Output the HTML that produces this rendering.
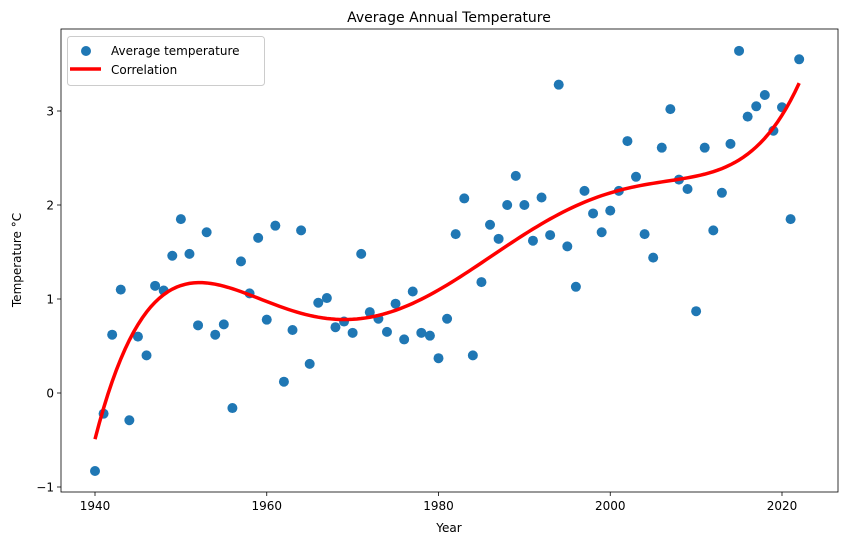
<!DOCTYPE html>
<html><head><meta charset="utf-8"><style>
body{margin:0;background:#fff;}
svg text{font-family:"DejaVu Sans","Liberation Sans",sans-serif;fill:#000;}
</style></head><body>
<svg id="chart" width="844" height="545" xmlns="http://www.w3.org/2000/svg">
<rect x="0" y="0" width="844" height="545" fill="#fff"/>
<text x="449" y="22" font-size="14" text-anchor="middle">Average Annual Temperature</text>
<text x="449" y="532" font-size="12" text-anchor="middle">Year</text>
<text transform="translate(21,260) rotate(-90)" font-size="12" text-anchor="middle">Temperature °C</text>
<g id="ticks"></g>
<g id="marks"></g>
<rect x="61" y="29" width="777" height="463" fill="none" stroke="#000" stroke-width="0.8"/>
<g>
<rect x="67.5" y="36.5" width="197" height="49" rx="3" fill="#fff" fill-opacity="0.8" stroke="#ccc"/>
<circle cx="86" cy="51" r="5" fill="#1f77b4"/>
<text x="111" y="55" font-size="12">Average temperature</text>
<line x1="70" y1="69" x2="101" y2="69" stroke="red" stroke-width="3.5"/>
<text x="111" y="74" font-size="12">Correlation</text>
</g>
</svg>
<script>
const years = [];
for (let y = 1940; y <= 2022; y++) years.push(y);
const temps = [-0.83,-0.22,0.62,1.10,-0.29,0.60,0.40,1.14,1.09,1.46,1.85,1.48,0.72,1.71,0.62,0.73,-0.16,1.40,1.06,1.65,0.78,1.78,0.12,0.67,1.73,0.31,0.96,1.01,0.70,0.76,0.64,1.48,0.86,0.79,0.65,0.95,0.57,1.08,0.64,0.61,0.37,0.79,1.69,2.07,0.40,1.18,1.79,1.64,2.00,2.31,2.00,1.62,2.08,1.68,3.28,1.56,1.13,2.15,1.91,1.71,1.94,2.15,2.68,2.30,1.69,1.44,2.61,3.02,2.27,2.17,0.87,2.61,1.73,2.13,2.65,3.64,2.94,3.05,3.17,2.79,3.04,1.85,3.55];
const xTicks = [1940,1960,1980,2000,2020];
const yTicks = [-1,0,1,2,3];
const NS = "http://www.w3.org/2000/svg";
function xs(v){return 95 + (v-1940)*(687/80);}
function ys(v){return 393 - v*94;}
const tg = document.getElementById('ticks'), mg = document.getElementById('marks');
function mk(tag, attrs, parent){const e=document.createElementNS(NS,tag);for(const k in attrs)e.setAttribute(k,attrs[k]);parent.appendChild(e);return e;}
xTicks.forEach(t=>{
  const l=mk('line',{x1:xs(t),x2:xs(t),y1:492,y2:496,stroke:'#000','stroke-width':0.8},tg);
  
  
  const tx=mk('text',{x:xs(t),y:510,'font-size':12,'text-anchor':'middle'},tg);tx.textContent=t;
  
  
});
yTicks.forEach(t=>{
  const l=mk('line',{x1:57,x2:61,y1:ys(t),y2:ys(t),stroke:'#000','stroke-width':0.8},tg);
  
  
  const tx=mk('text',{x:54,y:ys(t)+4.5,'font-size':12,'text-anchor':'end'},tg);tx.textContent=(t<0?'\u2212'+(-t):t);
  
  
});
years.forEach((yr,i)=>{
  const c=mk('circle',{cx:xs(yr),cy:ys(temps[i]),r:5,fill:'#1f77b4'},mg);
  
  
});
const deg=5, n=years.length;
const u=years.map(y=>(y-1981)/41);
const A=[],b=[];
for(let i=0;i<=deg;i++){A.push([]);for(let j=0;j<=deg;j++){let s=0;for(let k=0;k<n;k++)s+=Math.pow(u[k],i+j);A[i].push(s);}let s=0;for(let k=0;k<n;k++)s+=temps[k]*Math.pow(u[k],i);b.push(s);}
for(let i=0;i<=deg;i++){let p=i;for(let r=i+1;r<=deg;r++)if(Math.abs(A[r][i])>Math.abs(A[p][i]))p=r;[A[i],A[p]]=[A[p],A[i]];[b[i],b[p]]=[b[p],b[i]];
  for(let r=i+1;r<=deg;r++){const f=A[r][i]/A[i][i];for(let c=i;c<=deg;c++)A[r][c]-=f*A[i][c];b[r]-=f*b[i];}}
const co=new Array(deg+1);
for(let i=deg;i>=0;i--){let s=b[i];for(let c=i+1;c<=deg;c++)s-=A[i][c]*co[c];co[i]=s/A[i][i];}
let d='';
for(let yr=1940;yr<=2022.001;yr+=0.5){const uu=(yr-1981)/41;let v=0;for(let i=0;i<=deg;i++)v+=co[i]*Math.pow(uu,i);d+=(d?'L':'M')+xs(yr).toFixed(2)+','+ys(v).toFixed(2);}
const p=mk('path',{d:d,fill:'none',stroke:'red','stroke-width':3.5},mg);


</script>
</body></html>
